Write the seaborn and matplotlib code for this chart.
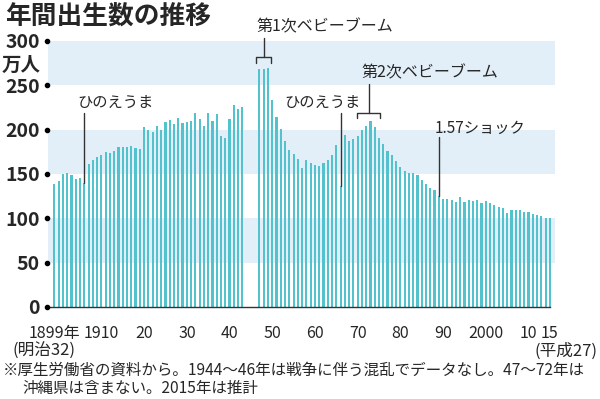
import numpy as np
import pandas as pd
import matplotlib
matplotlib.use("Agg")
import matplotlib.pyplot as plt
import matplotlib.transforms as mtrans
from matplotlib.ticker import FixedLocator
import seaborn as sns

# 年間出生数（万人）、1944～46年はデータなし
years = list(range(1899, 2016))
births = [
    138.7, 142.0, 150.1, 151.0, 148.9, 144.1, 145.2, 139.5, 161.5, 166.3, 169.3,  # 1899-1909
    171.2, 174.7, 173.7, 175.7, 180.8, 179.9, 180.4, 181.3, 179.2, 177.9,  # 1910s
    202.6, 199.1, 196.9, 204.3, 199.8, 208.7, 210.5, 206.1, 213.6, 207.7,  # 1920s
    208.5, 210.3, 218.3, 212.1, 204.4, 219.1, 210.2, 218.1, 192.8, 190.2,  # 1930s
    211.6, 227.7, 223.4, 225.4, np.nan, np.nan, np.nan, 267.9, 268.2, 269.7,  # 1940s
    233.8, 213.8, 200.5, 186.8, 177.0, 173.1, 166.5, 156.7, 165.3, 162.6,  # 1950s
    160.6, 158.9, 161.9, 166.0, 171.7, 182.4, 136.1, 193.6, 187.2, 189.0,  # 1960s
    193.4, 200.1, 203.9, 209.2, 203.0, 190.1, 183.3, 175.5, 170.9, 164.3,  # 1970s
    157.7, 152.9, 151.5, 150.9, 149.0, 143.2, 138.3, 134.7, 131.4, 124.7,  # 1980s
    122.2, 122.3, 120.9, 118.8, 123.8, 118.7, 120.7, 119.2, 120.3, 117.8,  # 1990s
    119.1, 117.1, 115.4, 112.4, 111.1, 106.3, 109.3, 109.0, 109.1, 107.0,  # 2000s
    107.1, 105.1, 103.7, 103.0, 100.4, 100.8,  # 2010-2015
]

x_ticks = [1899, 1910, 1920, 1930, 1940, 1950, 1960, 1970, 1980, 1990, 2000, 2010, 2015]
x_labels = ["1899年", "1910", "20", "30", "40", "50", "60", "70", "80", "90", "2000", "10", "15"]
y_ticks = [0, 50, 100, 150, 200, 250, 300]
band_lows = [50, 150, 250]

bar_color = "#52c2cd"
band_color = "#e3eff8"
ink = "#333333"

sns.set_style("white")
plt.rcParams["font.family"] = ["Noto Sans CJK JP", "DejaVu Sans"]

df = pd.DataFrame({"year": years, "births": births}).dropna()

fig = plt.figure(figsize=(6, 3.99), dpi=100)
ax = fig.add_axes([0.08, 0.2306, 0.845, 0.6667])

for lo in band_lows:
    ax.axhspan(lo, lo + 50, color=band_color, lw=0, zorder=0)

sns.barplot(data=df, x="year", y="births", native_scale=True, color=bar_color,
            saturation=1, width=0.5, linewidth=0, errorbar=None, ax=ax, zorder=2)

ax.set_xlim(1897.5, 2016.2)
ax.set_ylim(0, 300)
ax.set_xlabel("")
ax.set_ylabel("")

# x axis
ax.set_xticks(x_ticks)
ax.set_xticklabels(x_labels, fontsize=11.5)
ax.xaxis.set_minor_locator(FixedLocator(years))
ax.tick_params(axis="x", which="major", length=10, width=1, color=ink, pad=3)
ax.tick_params(axis="x", which="minor", length=5, width=0.8, color=ink)
for s in ["top", "right", "left"]:
    ax.spines[s].set_visible(False)
ax.spines["bottom"].set_color(ink)
ax.spines["bottom"].set_linewidth(1)
ax.spines["bottom"].set_bounds(1897.6, 2015)

# y axis: bold labels with dots
ax.set_yticks(y_ticks)
ax.set_yticklabels([str(v) for v in y_ticks], fontsize=14, fontweight="bold")
ax.tick_params(axis="y", length=0, pad=6)
trans = mtrans.blended_transform_factory(ax.transAxes, ax.transData)
ax.plot([-0.002] * len(y_ticks), y_ticks, "o", ms=3, color="black",
        transform=trans, clip_on=False, zorder=5)
ax.text(-0.0145, 273, "万人", transform=trans, ha="right", va="center",
        fontsize=14, fontweight="bold")

# annotations
def vline(x, y0, y1):
    ax.plot([x, x], [y0, y1], color=ink, lw=1, clip_on=False, zorder=4)

def bracket(x0, x1, ytop, ybot):
    ax.plot([x0, x0, x1, x1], [ybot, ytop, ytop, ybot], color=ink, lw=1,
            clip_on=False, zorder=4)

val = dict(zip(years, births))

# ひのえうま 1906
vline(1906, val[1906], 219)
ax.text(1913.2, 231, "ひのえうま", ha="center", va="center", fontsize=11)

# ひのえうま 1966
vline(1966, val[1966], 219)
ax.text(1961.8, 231, "ひのえうま", ha="center", va="center", fontsize=11)

# 第1次ベビーブーム 1947-49
bracket(1947 - 0.7, 1949 + 0.8, 282, 275)
vline(1948.05, 282, 303)
ax.text(1946.4, 316, "第1次ベビーブーム", ha="left", va="center", fontsize=11.5, clip_on=False)

# 第2次ベビーブーム 1971-74
bracket(1971 - 1.1, 1974 + 1.2, 219, 213)
vline(1972.55, 219, 251)
ax.text(1971.0, 264, "第2次ベビーブーム", ha="left", va="center", fontsize=11.5)

# 1.57ショック 1989
vline(1989, val[1989], 192)
ax.text(1988.1, 202, "1.57ショック", ha="left", va="center", fontsize=11)

# title and notes
fig.text(0.008, 1 - 17 / 399, "年間出生数の推移", ha="left", va="center",
         fontsize=18.5, fontweight="bold")
fig.text(44 / 600, 1 - 351 / 399, "(明治32)", ha="center", va="center", fontsize=12)
fig.text(598 / 600, 1 - 351 / 399, "(平成27)", ha="right", va="center", fontsize=12)
fig.text(3 / 600, 1 - 370 / 399,
         "※厚生労働省の資料から。1944～46年は戦争に伴う混乱でデータなし。47～72年は",
         ha="left", va="center", fontsize=11.2)
fig.text(22 / 600, 1 - 388 / 399, "沖縄県は含まない。2015年は推計",
         ha="left", va="center", fontsize=11.2)

fig.savefig("out.png", dpi=100)
